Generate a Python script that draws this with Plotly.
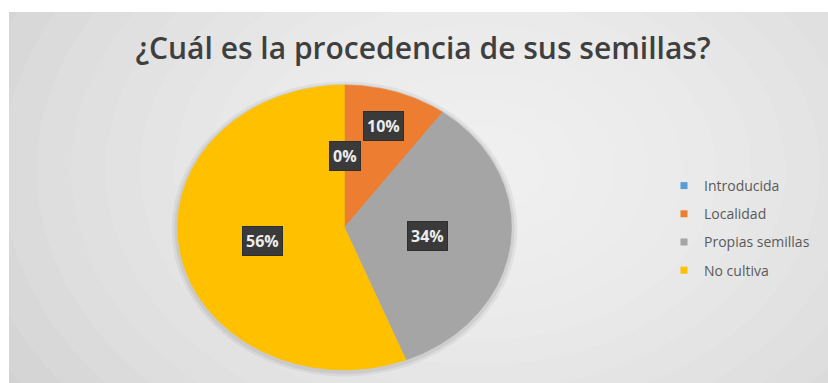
import numpy as np
import plotly.graph_objects as go

# Survey answers: where the seeds come from (share of respondents, %)
categories = ["Introducida", "Localidad", "Propias semillas", "No cultiva"]
percentages = [0, 10, 34, 56]
colors = ["#5B9BD5", "#ED7D31", "#A5A5A5", "#FFC000"]

title_text = "¿Cuál es la procedencia de sus semillas?"

# Radial position of each value label, as a fraction of the pie radius
label_radius = [0.5, 0.75, 0.5, 0.5]

W, H = 828, 383
# Pie geometry in pixels (the pie is drawn in unit data space; axis
# scaling turns the unit circle into the stretched ellipse)
cx_px, cy_px, rx_px, ry_px = 344.5, 227.5, 167.0, 142.5
panel_left, panel_top = 9, 12

x_range = [(panel_left - cx_px) / rx_px, (W - cx_px) / rx_px]
y_range = [-(H - cy_px) / ry_px, (cy_px - panel_top) / ry_px]

fig = go.Figure()

total = float(sum(percentages))
start = 0.0
mids = []
for name, val, col in zip(categories, percentages, colors):
    sweep = 360.0 * val / total
    end = start + sweep
    mids.append(start + sweep / 2)
    n = max(2, int(sweep * 2))
    theta = np.radians(np.linspace(start, end, n))
    xs = np.concatenate([[0.0], np.sin(theta), [0.0]])
    ys = np.concatenate([[0.0], np.cos(theta), [0.0]])
    fig.add_trace(go.Scatter(
        x=xs, y=ys, mode="lines", fill="toself", fillcolor=col,
        line=dict(color=col, width=0.5), hoverinfo="skip",
        showlegend=False, name=name,
    ))
    start = end

# Legend entries (small squares)
for i, (name, col) in enumerate(zip(categories, colors)):
    fig.add_trace(go.Scatter(
        x=[None], y=[None], mode="markers", name=name,
        marker=dict(symbol="square", size=7, color=col),
        legendgroup=f"g{i}",
    ))

# Value labels in dark boxes
for val, mid, fr in zip(percentages, mids, label_radius):
    a = np.radians(mid)
    fig.add_annotation(
        x=fr * np.sin(a), y=fr * np.cos(a), xref="x", yref="y",
        text=f"<b>{val}%</b>", showarrow=False,
        font=dict(family="Open Sans", size=16, color="#EDEDED"),
        bgcolor="#3A3A3A", borderpad=3, bordercolor="#2E2E2E", borderwidth=1,
    )

# Soft radial light on the grey panel
gx_px, gy_px = 480, 170
gx = (gx_px - cx_px) / rx_px
gy = (cy_px - gy_px) / ry_px
shapes = []
n_layers = 18
for k in range(n_layers):
    r_px = 620 * (1 - k / n_layers) + 30
    rxu = r_px / rx_px
    ryu = r_px * 0.72 / ry_px
    shapes.append(dict(
        type="circle", xref="x", yref="y", layer="below",
        x0=gx - rxu, x1=gx + rxu, y0=gy - ryu, y1=gy + ryu,
        fillcolor="white", opacity=0.085, line=dict(width=0),
    ))

# Faint shadow halo around the pie
for grow, op in [(1.035, 0.10), (1.018, 0.14)]:
    shapes.append(dict(
        type="circle", xref="x", yref="y", layer="below",
        x0=-grow, x1=grow, y0=-grow - 0.01, y1=grow - 0.01,
        fillcolor="#7A7A7A", opacity=op, line=dict(width=0),
    ))

fig.update_layout(
    width=W, height=H,
    margin=dict(l=0, r=0, t=0, b=0),
    paper_bgcolor="white",
    plot_bgcolor="#C6C6C6",
    shapes=shapes,
    title=dict(
        text=title_text, x=423 / W, xanchor="center",
        y=1 - 48 / H, yanchor="middle", yref="container",
        font=dict(family="Open Sans", size=30, color="#3F3F3F", weight=600),
    ),
    xaxis=dict(range=x_range, domain=[panel_left / W, 1], visible=False,
               fixedrange=True),
    yaxis=dict(range=y_range, domain=[0, 1 - panel_top / H], visible=False,
               fixedrange=True),
    legend=dict(
        x=664 / W, xanchor="left", y=1 - 170 / H, yanchor="top",
        font=dict(family="Open Sans", size=14, color="#5A5A5A"),
        bgcolor="rgba(0,0,0,0)", traceorder="grouped", tracegroupgap=7,
        itemwidth=30,
    ),
)

fig.write_html("out.html")
